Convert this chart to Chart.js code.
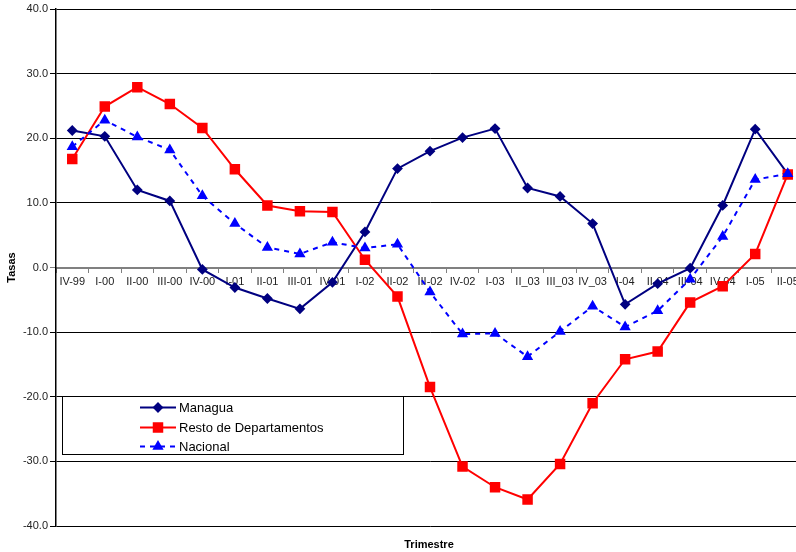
<!DOCTYPE html>
<html>
<head>
<meta charset="utf-8">
<script src="https://cdn.jsdelivr.net/npm/chart.js@4/dist/chart.umd.min.js"></script>
<style>
html,body{margin:0;padding:0;background:#fff;overflow:hidden;}
#wrap{width:812px;height:552px;}
</style>
</head>
<body>
<div id="wrap"><canvas id="c" width="812" height="552"></canvas></div>
<script>
const categories = ["IV-99","I-00","II-00","III-00","IV-00","I-01","II-01","III-01","IV-01","I-02","II-02","III-02","IV-02","I-03","II_03","III_03","IV_03","I-04","II-04","III-04","IV-04","I-05","II-05"];
const managua = [21.2,20.3,12.0,10.3,-0.3,-3.1,-4.8,-6.4,-2.3,5.5,15.3,18.0,20.1,21.5,12.3,11.0,6.8,-5.7,-2.5,-0.1,9.6,21.4,14.5];
const resto = [16.8,24.9,27.9,25.3,21.6,15.2,9.6,8.7,8.6,1.2,-4.5,-18.5,-30.8,-34.0,-35.9,-30.4,-21.0,-14.2,-13.0,-5.4,-2.9,2.1,14.4];
const nacional = [18.7,22.8,20.2,18.2,11.1,6.8,3.1,2.1,3.9,3.0,3.6,-3.8,-10.3,-10.2,-13.8,-9.9,-6.0,-9.2,-6.7,-1.8,4.8,13.6,14.5];
const seriesNames = ["Managua","Resto de Departamentos","Nacional"];
const yTicks = [40,30,20,10,0,-10,-20,-30,-40];

const FONT = "'Liberation Sans', Arial, sans-serif";

const legendPlugin = {
  id: 'boxLegend',
  afterDraw(chart) {
    const ctx = chart.ctx;
    ctx.save();
    // legend box
    ctx.fillStyle = '#fff';
    ctx.fillRect(62, 396, 341, 58);
    ctx.strokeStyle = '#000';
    ctx.lineWidth = 1;
    ctx.strokeRect(62.5, 396.5, 341, 58);
    const rows = [407, 427, 446];
    chart.data.datasets.forEach((ds, i) => {
      const y = rows[i];
      ctx.strokeStyle = ds.borderColor;
      ctx.lineWidth = 2;
      ctx.setLineDash(ds.borderDash || []);
      ctx.beginPath();
      ctx.moveTo(140, y + 0.5);
      ctx.lineTo(176, y + 0.5);
      ctx.stroke();
      ctx.setLineDash([]);
      ctx.fillStyle = ds.pointBackgroundColor;
      ctx.strokeStyle = ds.pointBorderColor;
      Chart.helpers.drawPoint(ctx, {pointStyle: ds.pointStyle, radius: ds.pointRadius, rotation: 0, borderWidth: 1}, 158, y + 0.5);
      ctx.fillStyle = '#000';
      ctx.font = '13px ' + FONT;
      ctx.textBaseline = 'middle';
      ctx.textAlign = 'left';
      ctx.fillText(ds.label, 179, y + 1);
    });
    // x axis title
    ctx.fillStyle = '#000';
    ctx.font = 'bold 11px ' + FONT;
    ctx.textAlign = 'center';
    ctx.textBaseline = 'middle';
    ctx.fillText('Trimestre', 429, 545);
    ctx.restore();
  }
};

new Chart(document.getElementById('c'), {
  type: 'line',
  data: {
    labels: categories,
    datasets: [
      {label: seriesNames[0], data: managua, borderColor: '#000080', backgroundColor: '#000080',
       pointBackgroundColor: '#000080', pointBorderColor: '#000080', pointStyle: 'rectRot', pointRadius: 4,
       borderWidth: 2, tension: 0, order: 2},
      {label: seriesNames[1], data: resto, borderColor: '#ff0000', backgroundColor: '#ff0000',
       pointBackgroundColor: '#ff0000', pointBorderColor: '#ff0000', pointStyle: 'rect', pointRadius: 6,
       borderWidth: 2, tension: 0, order: 1},
      {label: seriesNames[2], data: nacional, borderColor: '#0000ff', backgroundColor: '#0000ff',
       pointBackgroundColor: '#0000ff', pointBorderColor: '#0000ff', pointStyle: 'triangle', pointRadius: 4.5,
       borderWidth: 2, borderDash: [5,5], tension: 0, order: 0}
    ]
  },
  options: {
    responsive: false,
    animation: false,
    devicePixelRatio: 1,
    layout: {padding: {top: 9, bottom: 26, left: 0, right: 6}},
    plugins: {legend: {display: false}, title: {display: false}, tooltip: {enabled: false}},
    scales: {
      x: {
        type: 'category',
        position: {y: 0},
        offset: true,
        grid: {offset: true, drawOnChartArea: false, drawTicks: true, tickLength: 4, color: '#808080', lineWidth: 1},
        border: {display: true, color: '#808080', width: 2},
        ticks: {autoSkip: false, maxRotation: 0, minRotation: 0, padding: 4, color: '#222', font: {family: FONT, size: 11}}
      },
      y: {
        min: -40, max: 40,
        afterFit(scale) { scale.width = 56; },
        afterBuildTicks(scale) { scale.ticks = yTicks.map(v => ({value: v})); },
        grid: {color: ctx => (ctx.tick && ctx.tick.value === 0) ? '#808080' : '#000', lineWidth: 1, tickLength: 6, drawTicks: true},
        border: {display: true, color: '#000', width: 1.5},
        ticks: {padding: 2, color: '#222', font: {family: FONT, size: 11}, callback: v => Number(v).toFixed(1)},
        title: {display: true, text: 'Tasas', color: '#000', font: {family: FONT, size: 11, weight: 'bold'}, padding: {top: 5, bottom: 0}}
      }
    }
  },
  plugins: [legendPlugin]
});
</script>
</body>
</html>
